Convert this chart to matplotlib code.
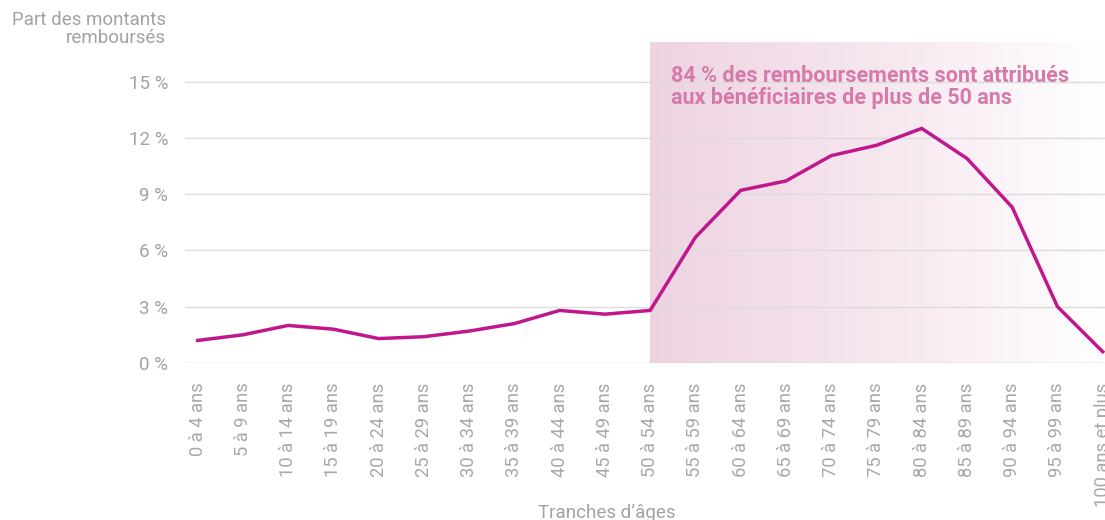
import numpy as np
import matplotlib.pyplot as plt
from matplotlib.colors import LinearSegmentedColormap

plt.rcParams['font.family'] = ['Roboto', 'DejaVu Sans']

tranches = ['0 à 4 ans', '5 à 9 ans', '10 à 14 ans', '15 à 19 ans', '20 à 24 ans',
            '25 à 29 ans', '30 à 34 ans', '35 à 39 ans', '40 à 44 ans', '45 à 49 ans',
            '50 à 54 ans', '55 à 59 ans', '60 à 64 ans', '65 à 69 ans', '70 à 74 ans',
            '75 à 79 ans', '80 à 84 ans', '85 à 89 ans', '90 à 94 ans', '95 à 99 ans',
            '100 ans et plus']
part = [1.2, 1.5, 2.0, 1.8, 1.3, 1.4, 1.7, 2.1, 2.8, 2.6, 2.8,
        6.7, 9.2, 9.7, 11.05, 11.6, 12.5, 10.9, 8.3, 3.0, 0.6]
yticks = [0, 3, 6, 9, 12, 15]

grey = '#a2a2a2'
fig = plt.figure(figsize=(11.05, 5.2), dpi=100)
ax = fig.add_axes([0.1674, 0.302, 0.8326, 0.617])

x = np.arange(len(tranches))
xmax = len(tranches) - 1 + 0.05
ymax = 17.1
ax.set_xlim(-0.28, xmax)
ax.set_ylim(0, ymax)

# gradient shading from 50 ans
cmap = LinearSegmentedColormap.from_list('rose', ['#edd3e1', '#f6e7ef', '#ffffff'])
grad = np.linspace(0, 1, 256).reshape(1, -1)
ax.imshow(grad, cmap=cmap, aspect='auto', extent=[10, xmax, 0, ymax], zorder=0)

for t in yticks[1:]:
    ax.axhline(t, color='#dcdcdc', lw=1, zorder=1)
ax.axhline(0, color='#c8c8c8', lw=1, zorder=1)

ax.plot(x, part, color='#c0188c', lw=2.5, zorder=3, solid_joinstyle='miter')

ax.text(10.45, 15.9, '84 % des remboursements sont attribués\naux bénéficiaires de plus de 50 ans',
        color='#d67aaa', fontsize=15.5, fontweight='bold', va='top', ha='left',
        linespacing=1.05, zorder=4)

for s in ax.spines.values():
    s.set_visible(False)
ax.set_xticks(x)
ax.set_xticklabels(tranches, rotation=90, va='top', ha='center', fontsize=13.2, color='#a8a8a8')
ax.set_yticks(yticks)
ax.set_yticklabels([f'{t} %' for t in yticks], fontsize=13.5, color=grey)
ax.tick_params(axis='both', length=0)
ax.tick_params(axis='x', pad=14)
ax.tick_params(axis='y', pad=12)

fig.text(0.150, 0.978, 'Part des montants\nremboursés', color=grey, fontsize=13.5,
         ha='right', va='top', linespacing=0.95)
fig.text(0.549, -0.004, 'Tranches d\u2019âges', color=grey, fontsize=13.5, ha='center',
         va='bottom')

fig.savefig('out.png', dpi=100)
